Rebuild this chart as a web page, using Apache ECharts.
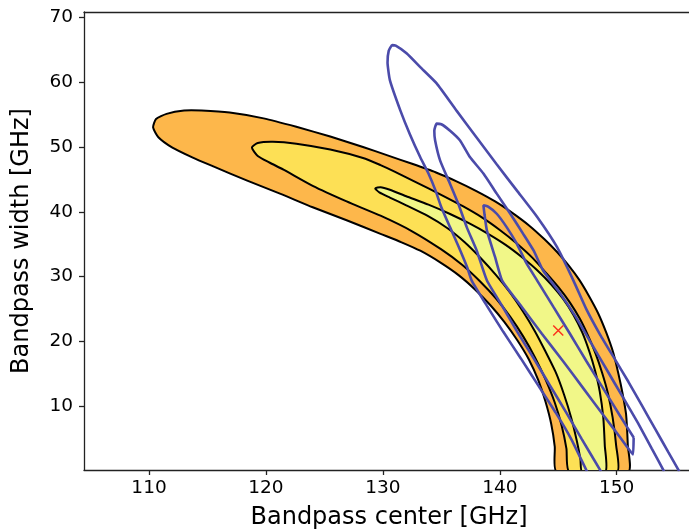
<!DOCTYPE html>
<html><head><meta charset="utf-8">
<script src="https://cdn.jsdelivr.net/npm/echarts@6/dist/echarts.min.js"></script>
<style>html,body{margin:0;padding:0;background:#fff}#c{width:689px;height:532px}</style>
</head><body><div id="c"></div>
<script>
const xTicks = [110, 120, 130, 140, 150];
const yTicks = [10, 20, 30, 40, 50, 60, 70];

// filled contour outlines (data coordinates: [center GHz, width GHz])
const level1 = [[151.0,0],[150.95,4.0],[150.8,8.8],[150.5,12.0],[150.15,15.0],[149.7,18.3],[149.1,21.4],[148.4,24.4],[147.6,27.1],[146.8,29.5],[145.9,31.7],[144.9,33.8],[143.8,35.8],[142.5,37.9],[141.1,39.8],[139.6,41.6],[138.0,43.2],[136.3,44.7],[134.5,46.1],[132.5,47.4],[130.4,48.7],[128.3,50.0],[125.5,51.6],[122.6,53.1],[119.8,54.4],[116.9,55.3],[114.5,55.6],[113.0,55.6],[111.5,55.1],[110.6,54.3],[110.35,53.0],[110.8,51.5],[112.0,49.9],[113.7,48.4],[115.5,47.0],[118.4,44.8],[121.2,42.8],[124.0,40.7],[126.9,38.7],[129.8,36.6],[131.6,35.3],[133.2,34.0],[134.9,32.2],[136.5,30.2],[137.9,28.0],[139.2,25.6],[140.4,23.0],[141.5,20.2],[142.5,17.2],[143.3,14.0],[143.9,10.8],[144.4,7.3],[144.7,3.8],[144.85,0]];
const level2 = [[150.05,0],[149.95,4],[149.65,8.3],[149.25,12],[148.75,15.2],[148.2,18.1],[147.55,20.9],[146.85,23.5],[146.0,26.0],[145.05,28.3],[144.0,30.5],[142.8,32.9],[141.4,35.2],[140.0,37.2],[138.5,39.1],[136.8,40.9],[134.9,42.7],[132.9,44.5],[131.0,46.2],[129.8,47.2],[128.3,48.3],[125.5,49.6],[122.6,50.5],[120.6,50.8],[119.3,50.6],[118.8,49.9],[119.3,48.6],[120.3,47.6],[121.5,46.5],[124.0,44.0],[126.9,41.6],[129.8,39.4],[132.5,37.0],[135.0,34.2],[136.8,31.8],[138.3,29.3],[139.7,26.6],[140.9,23.8],[142.0,20.8],[143.0,17.6],[143.9,14.2],[144.7,10.6],[145.3,7.0],[145.7,3.5],[145.93,0]];
const level3 = [[149.05,0],[148.98,4],[148.85,8.3],[148.55,12.3],[148.15,15.5],[147.65,18.5],[147.05,21.4],[146.3,24.1],[145.4,26.6],[144.4,28.8],[143.2,31.0],[141.9,33.0],[140.5,34.9],[139.0,36.6],[137.4,38.2],[135.7,39.7],[133.9,41.1],[132.0,42.4],[130.6,43.4],[129.8,43.8],[129.35,43.6],[129.7,43.0],[130.6,42.2],[132.0,41.0],[133.8,39.4],[135.5,37.5],[137.0,35.3],[138.4,32.8],[139.7,30.2],[140.9,27.5],[142.0,24.6],[143.0,21.6],[143.9,18.5],[144.8,15.2],[145.5,11.8],[146.1,8.3],[146.6,4.6],[146.9,1.8],[147.03,0]];

// blue contour lines
const blueA = [[155.35,0],[154.4,3.0],[153.3,6.5],[152.2,10.0],[151.0,13.8],[149.8,17.4],[148.6,21.0],[147.4,25.0],[146.3,29.4],[144.9,34.55],[143.2,39.2],[141.45,43.3],[139.7,47.4],[138.0,51.5],[136.3,55.6],[134.6,59.8],[133.2,62.3],[132.05,64.4],[131.1,65.6],[130.8,65.7],[130.5,64.8],[130.4,63.0],[130.6,60.3],[131.5,55.6],[132.3,52.0],[133.2,48.4],[133.9,45.9],[134.5,43.3],[135.0,40.7],[135.75,37.6],[136.5,34.55],[137.2,31.5],[137.6,29.4],[138.9,25.5],[140.3,21.5],[141.8,17.4],[143.3,13.2],[144.8,9.0],[146.1,5.0],[147.45,0]];
const blueB = [[154.05,0],[153.0,3.5],[151.8,7.5],[150.5,11.5],[149.2,15.5],[147.8,19.8],[146.5,23.8],[145.1,27.6],[143.7,30.95],[142.9,34.0],[142.0,36.6],[140.9,39.7],[139.74,42.8],[138.6,45.9],[137.46,48.4],[136.6,51.0],[135.75,52.5],[135.0,53.5],[134.6,53.6],[134.4,52.5],[134.47,51.0],[134.9,47.9],[135.75,44.3],[136.46,41.2],[137.18,37.6],[138.03,34.0],[138.9,29.4],[140.2,25.5],[141.5,21.5],[142.9,17.4],[144.3,13.2],[145.7,9.0],[147.0,5.0],[148.65,0]];
const blueC = [[151.45,5.2],[150.2,8.8],[148.8,12.9],[147.4,17.0],[146.0,21.2],[144.6,25.3],[143.2,29.4],[142.3,32.0],[141.45,35.1],[140.6,37.6],[139.74,39.7],[139.0,40.8],[138.6,41.0],[138.7,39.5],[138.9,37.1],[139.6,33.0],[140.2,29.4],[141.9,25.3],[143.6,21.2],[145.4,17.0],[147.1,12.9],[148.8,8.8],[150.3,5.2],[151.2,3.0],[151.4,2.6],[151.45,5.2]];

const bestFit = [[145.0, 21.7]];

const fills = [
  {pts: level1, color: '#FDB74B'},
  {pts: level2, color: '#FDE055'},
  {pts: level3, color: '#F1F788'}
];

const chart = echarts.init(document.getElementById('c'), null, {renderer: 'canvas'});
const font = 'DejaVu Sans';
const axisColor = '#222';

const series = fills.map(function (f, i) {
  return {
    type: 'custom',
    coordinateSystem: 'cartesian2d',
    clip: true,
    silent: true,
    z: 2 + i,
    data: [[f.pts[0][0], f.pts[0][1]]],
    renderItem: function (params, api) {
      return {
        type: 'polygon',
        shape: {points: f.pts.map(function (p) { return api.coord(p); }), smooth: 0.2},
        style: {fill: f.color, stroke: '#000', lineWidth: 2}
      };
    }
  };
});

[blueA, blueB, blueC].forEach(function (b) {
  series.push({
    type: 'line', data: b, showSymbol: false, symbol: 'none', silent: true, z: 10,
    smooth: 0.15,
    lineStyle: {color: '#4B4BAA', width: 2.6}
  });
});

series.push({
  type: 'scatter', data: bestFit, z: 12, silent: true,
  symbol: 'path://M0,0L10,10M10,0L0,10', symbolSize: 10,
  itemStyle: {color: 'rgba(0,0,0,0)', borderColor: '#FF0000', borderWidth: 1.5}
});

chart.setOption({
  animation: false,
  backgroundColor: '#fff',
  grid: {left: 84, top: 12, right: -5, bottom: 62, show: false, containLabel: false, outerBoundsMode: 'none'},
  xAxis: [{
    type: 'value', min: 104.44, max: 156.61,
    name: 'Bandpass center [GHz]', nameLocation: 'middle', nameGap: 36,
    nameTextStyle: {fontFamily: font, fontSize: 24, color: '#000'},
    axisLine: {show: true, onZero: false, lineStyle: {color: axisColor, width: 1.3}},
    axisTick: {show: true, customValues: xTicks, length: 5, lineStyle: {color: axisColor, width: 1.3}},
    axisLabel: {customValues: xTicks, fontFamily: font, fontSize: 18.5, color: '#000', margin: 9},
    splitLine: {show: false}
  }, {
    type: 'value', position: 'top', min: 104.44, max: 156.61,
    axisLine: {show: true, onZero: false, lineStyle: {color: axisColor, width: 1.3}},
    axisTick: {show: false}, axisLabel: {show: false}, splitLine: {show: false}
  }],
  yAxis: {
    type: 'value', min: 0.2, max: 70.8,
    name: 'Bandpass width [GHz]', nameLocation: 'middle', nameGap: 50, nameRotate: 90,
    nameTextStyle: {fontFamily: font, fontSize: 24, color: '#000'},
    axisLine: {show: true, onZero: false, lineStyle: {color: axisColor, width: 1.3}},
    axisTick: {show: true, customValues: yTicks, length: 5, lineStyle: {color: axisColor, width: 1.3}},
    axisLabel: {customValues: yTicks, fontFamily: font, fontSize: 18.5, color: '#000', margin: 11},
    splitLine: {show: false}
  },
  series: series
});
</script>
</body></html>
